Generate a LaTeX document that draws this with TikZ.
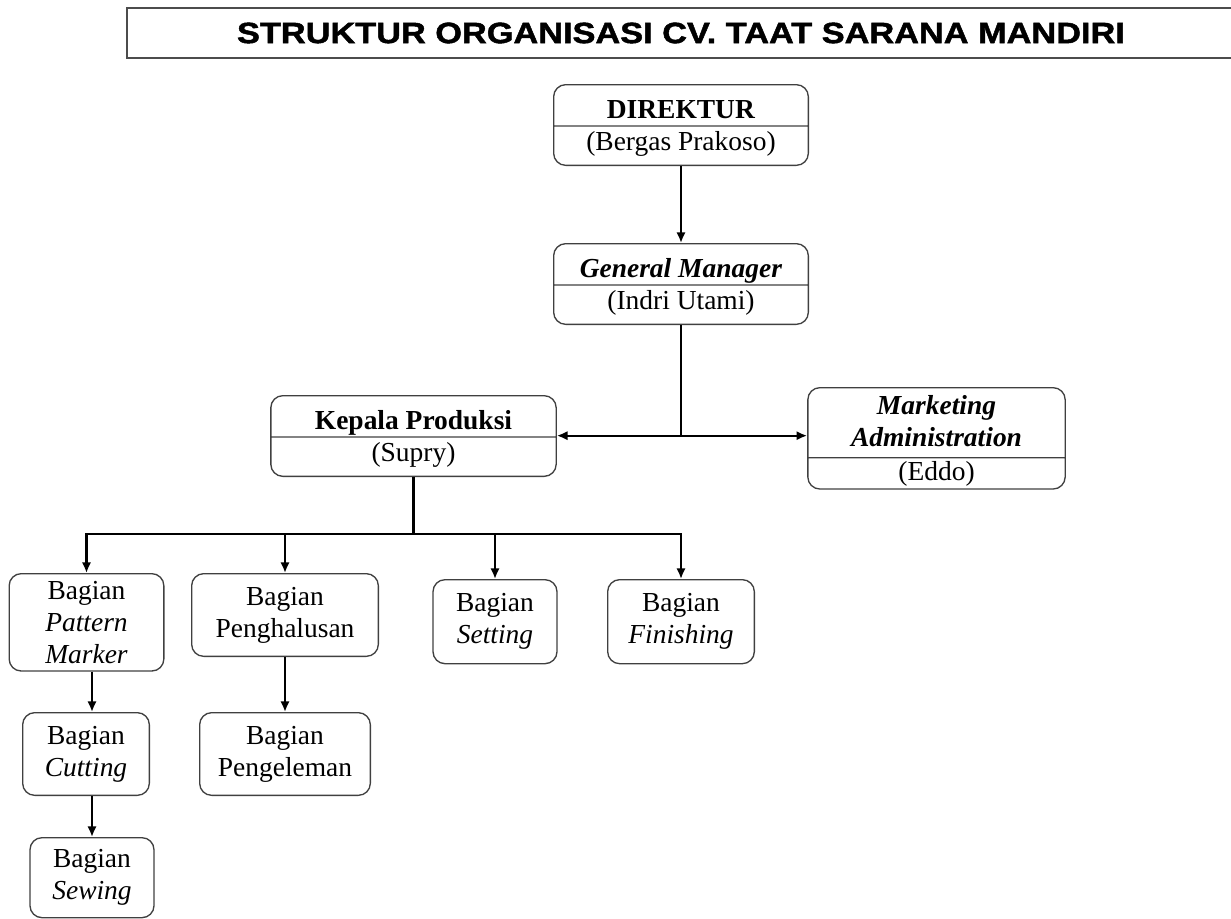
\documentclass[tikz,border=0pt]{standalone}
\usepackage{fontspec}
\setmainfont{Liberation Serif}
\newfontfamily\titlefont{Liberation Sans}[BoldFeatures={FakeBold=1.6,FakeStretch=1.17}]
\usepackage{tikz}
\usetikzlibrary{shapes.multipart,positioning,arrows.meta}
\newcommand{\hsa}{\rule[-5.5pt]{0pt}{30pt}}
\newcommand{\hsb}{\rule[-11pt]{0pt}{28.5pt}}

\begin{document}
\begin{tikzpicture}[x=0.75pt,y=-0.75pt,
  box/.style={draw=black!75,line width=1pt,rounded corners=9pt,align=center,inner sep=0pt,font=\fontsize{20.6}{24}\selectfont},
  splitbox/.style={box,rectangle split,rectangle split parts=2},
  link/.style={line width=1.6pt,black},
  arr/.style={link,-{Latex[length=8pt,width=7pt]}}]
\useasboundingbox (0,0) rectangle (1231,918);
\draw[black!70,line width=1.2pt] (127,8) rectangle (1260,58);
\node (title) at (681,33) {\titlefont\bfseries\fontsize{22}{26}\selectfont STRUKTUR ORGANISASI CV. TAAT SARANA MANDIRI};
\node[splitbox,minimum width=191pt,anchor=north] (dir) at (681,84) {\hsa\textbf{DIREKTUR}\nodepart{two}\hsb(Bergas Prakoso)};
\node[splitbox,minimum width=191pt,anchor=north] (gm) at (681,243) {\hsa\textbf{\textit{General Manager}}\nodepart{two}\hsb(Indri Utami)};
\node[splitbox,minimum width=214pt,anchor=north] (kp) at (413.5,395) {\hsa\textbf{Kepala Produksi}\nodepart{two}\hsb(Supry)};
\node[splitbox,minimum width=193pt,anchor=north] (mk) at (936.5,387) {\rule{0pt}{19.5pt}\textbf{\textit{Marketing}}\\\textbf{\textit{Administration}}\rule[-8pt]{0pt}{8pt}\nodepart{two}\rule[-6pt]{0pt}{22.5pt}(Eddo)};
\node[box,minimum width=116pt,minimum height=73pt,anchor=north] (pm) at (86.5,573) {Bagian\\\textit{Pattern}\\\textit{Marker}};
\node[box,minimum width=140pt,minimum height=62pt,anchor=north] (ph) at (285,573) {Bagian\\Penghalusan};
\node[box,minimum width=93pt,minimum height=63pt,anchor=north] (st) at (495,579) {Bagian\\\textit{Setting}};
\node[box,minimum width=110pt,minimum height=63pt,anchor=north] (fn) at (681,579) {Bagian\\\textit{Finishing}};
\node[box,minimum width=95pt,minimum height=62pt,anchor=north] (ct) at (86,712) {Bagian\\\textit{Cutting}};
\node[box,minimum width=128pt,minimum height=62pt,anchor=north] (pg) at (285,712) {Bagian\\Pengeleman};
\node[box,minimum width=93pt,minimum height=60pt,anchor=north] (sw) at (92,837) {Bagian\\\textit{Sewing}};
\coordinate[below=83pt of gm] (fork);
\coordinate[below=43pt of kp] (bus);
\draw[arr] (dir) -- (gm);
\draw[link] (gm) -- (fork);
\draw[arr] (fork) -- (kp.east |- fork);
\draw[arr] (fork) -- (mk.west |- fork);
\draw[link] (kp) -- (bus);
\foreach \n in {pm,ph,st,fn}
  \draw[arr] (bus) -| (\n);
\draw[arr] (pm.south -| sw.north) -- (ct.north -| sw.north);
\draw[arr] (ct.south -| sw.north) -- (sw.north);
\draw[arr] (ph) -- (pg);
\end{tikzpicture}
\end{document}
